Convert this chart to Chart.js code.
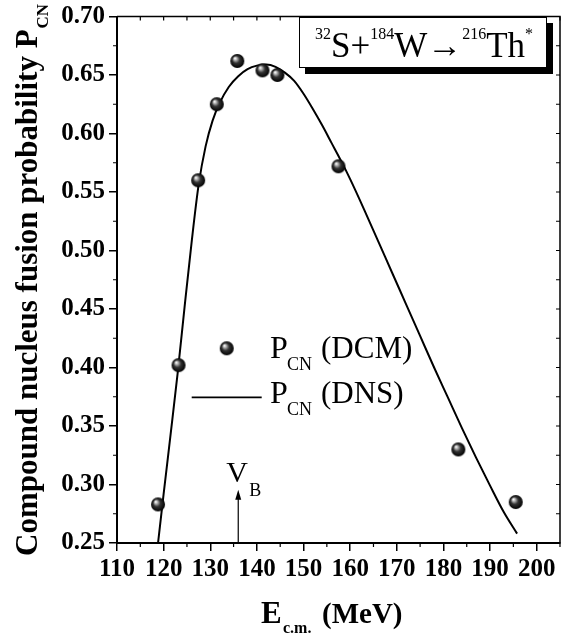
<!DOCTYPE html>
<html><head><meta charset="utf-8">
<script src="https://cdn.jsdelivr.net/npm/chart.js@4"></script>
<style>html,body{margin:0;padding:0;background:#fff}canvas{display:block}</style>
</head><body>
<canvas id="c" width="570" height="636"></canvas>
<script>
// ---- data ----
const dcmEnergy = [118.8, 123.2, 127.4, 131.4, 135.8, 141.2, 144.4, 157.5, 183.2, 195.5];
const dcmProb   = [0.283, 0.402, 0.560, 0.625, 0.662, 0.654, 0.650, 0.572, 0.330, 0.285];

const dnsEnergy = [118.8, 120, 121.5, 123, 124.5, 126, 127.5, 129, 130.5, 132, 134, 136, 138, 140, 142, 144, 146, 148, 150, 152, 154, 156, 158, 160, 163, 166, 169, 172, 175, 178, 181, 184, 187, 190, 193, 195.8];
const dnsProb   = [0.250, 0.292, 0.343, 0.395, 0.452, 0.507, 0.556, 0.589, 0.611, 0.626, 0.640, 0.649, 0.655, 0.658, 0.659, 0.657, 0.652, 0.645, 0.634, 0.621, 0.607, 0.592, 0.577, 0.561, 0.535, 0.508, 0.481, 0.454, 0.427, 0.400, 0.374, 0.348, 0.323, 0.299, 0.276, 0.258];

const xTicks      = [110, 120, 130, 140, 150, 160, 170, 180, 190, 200];
const xMinorTicks = [115, 125, 135, 145, 155, 165, 175, 185, 195, 205];
const yTicks      = [0.25, 0.30, 0.35, 0.40, 0.45, 0.50, 0.55, 0.60, 0.65, 0.70];
const yMinorTicks = [0.275, 0.325, 0.375, 0.425, 0.475, 0.525, 0.575, 0.625, 0.675];

const vbEnergy = 136;
const vbTipProb = 0.2955;

const SERIF = '"Liberation Serif","Times New Roman",serif';

function makeSphere(r) {
  const s = Math.ceil(r * 2 + 2);
  const cv = document.createElement('canvas');
  cv.width = s; cv.height = s;
  const g = cv.getContext('2d');
  const c = s / 2;
  const grad = g.createRadialGradient(c - r * 0.35, c - r * 0.4, r * 0.05, c, c, r);
  grad.addColorStop(0, '#ffffff');
  grad.addColorStop(0.18, '#b8b8b8');
  grad.addColorStop(0.5, '#333333');
  grad.addColorStop(1, '#000000');
  g.fillStyle = grad;
  g.beginPath(); g.arc(c, c, r, 0, Math.PI * 2); g.fill();
  return cv;
}
const sphere = makeSphere(7);

const decor = {
  id: 'decor',
  afterDraw(chart) {
    const { ctx, chartArea: a, scales: { x, y } } = chart;
    ctx.save();
    ctx.strokeStyle = '#000';
    ctx.fillStyle = '#000';
    // frame top & right
    ctx.lineWidth = 1.5;
    ctx.beginPath();
    ctx.moveTo(a.left, a.top); ctx.lineTo(a.right, a.top); ctx.lineTo(a.right, a.bottom);
    ctx.stroke();
    // minor ticks and inner ticks
    ctx.lineWidth = 1.2;
    ctx.beginPath();
    xMinorTicks.forEach(v => { const p = x.getPixelForValue(v); ctx.moveTo(p, a.bottom); ctx.lineTo(p, a.bottom + 4); });
    yMinorTicks.forEach(v => { const p = y.getPixelForValue(v); ctx.moveTo(a.left, p); ctx.lineTo(a.left - 4, p); });
    xTicks.concat(xMinorTicks).forEach(v => { const p = x.getPixelForValue(v); ctx.moveTo(p, a.top); ctx.lineTo(p, a.top + 4); });
    yTicks.concat(yMinorTicks).forEach(v => { const p = y.getPixelForValue(v); ctx.moveTo(a.right, p); ctx.lineTo(a.right - 4, p); });
    ctx.stroke();

    // V_B arrow
    const vx = x.getPixelForValue(vbEnergy);
    const vt = y.getPixelForValue(vbTipProb);
    ctx.lineWidth = 1.2;
    ctx.beginPath(); ctx.moveTo(vx, a.bottom); ctx.lineTo(vx, vt + 8); ctx.stroke();
    ctx.beginPath(); ctx.moveTo(vx, vt); ctx.lineTo(vx - 3, vt + 10); ctx.lineTo(vx + 3, vt + 10); ctx.closePath(); ctx.fill();
    ctx.textBaseline = 'alphabetic'; ctx.textAlign = 'left';
    ctx.font = '30px ' + SERIF; ctx.fillText('V', vx - 12, vt - 8);
    ctx.font = '18px ' + SERIF; ctx.fillText('B', vx + 11, vt + 6);

    // Y axis title
    ctx.save();
    ctx.translate(37, 556); ctx.rotate(-Math.PI / 2);
    ctx.font = 'bold 31px ' + SERIF;
    const yt = 'Compound nucleus fusion probability P';
    ctx.fillText(yt, 0, 0);
    const yw = ctx.measureText(yt).width;
    ctx.font = 'bold 17px ' + SERIF;
    ctx.fillText('CN', yw + 1, 11);
    ctx.restore();

    // X axis title
    ctx.font = 'bold 31px ' + SERIF; ctx.fillText('E', 261, 623);
    ctx.font = 'bold 16px ' + SERIF; ctx.fillText('c.m.', 283, 633);
    ctx.font = 'bold 29px ' + SERIF; ctx.fillText('(MeV)', 322, 623);

    // Legend
    ctx.drawImage(sphere, 226.7 - sphere.width / 2, 348.3 - sphere.height / 2);
    ctx.font = '32px ' + SERIF; ctx.fillText('P', 270, 358);
    ctx.font = '18px ' + SERIF; ctx.fillText('CN', 287, 370);
    ctx.font = '31px ' + SERIF; ctx.fillText('(DCM)', 321, 358);
    ctx.lineWidth = 1.8;
    ctx.beginPath(); ctx.moveTo(191.7, 397.3); ctx.lineTo(261.7, 397.3); ctx.stroke();
    ctx.font = '32px ' + SERIF; ctx.fillText('P', 270, 402.7);
    ctx.font = '18px ' + SERIF; ctx.fillText('CN', 287, 415);
    ctx.font = '31px ' + SERIF; ctx.fillText('(DNS)', 321, 402.7);

    // Title box with shadow
    ctx.fillStyle = '#000'; ctx.fillRect(305, 23, 248, 51);
    ctx.fillStyle = '#fff'; ctx.fillRect(299, 17, 248, 51);
    ctx.lineWidth = 1; ctx.strokeStyle = '#000'; ctx.strokeRect(299.5, 17.5, 247, 50);
    ctx.fillStyle = '#000';
    const parts = [['32', true], ['S+', false], ['184', true], ['W\u2192', false], ['216', true], ['Th', false], ['*', true]];
    let tx = 315;
    parts.forEach(([s, sup]) => {
      ctx.font = (sup ? '16px ' : '35px ') + SERIF;
      ctx.fillText(s, tx, sup ? 39 : 57);
      tx += ctx.measureText(s).width;
    });
    ctx.restore();
  }
};

const tickFont = { family: SERIF, size: 25, weight: 'bold', lineHeight: 1 };

new Chart(document.getElementById('c'), {
  type: 'scatter',
  data: {
    datasets: [
      {
        label: 'PCN (DCM)',
        data: dcmEnergy.map((e, i) => ({ x: e, y: dcmProb[i] })),
        pointStyle: sphere,
        pointRadius: 7,
        showLine: false
      },
      {
        label: 'PCN (DNS)',
        data: dnsEnergy.map((e, i) => ({ x: e, y: dnsProb[i] })),
        showLine: true,
        borderColor: '#000',
        borderWidth: 2,
        pointRadius: 0,
        cubicInterpolationMode: 'monotone',
        fill: false
      }
    ]
  },
  options: {
    responsive: false,
    animation: false,
    devicePixelRatio: 1,
    layout: { padding: { top: 13, right: 10, left: 0, bottom: 0 } },
    plugins: { legend: { display: false }, tooltip: { enabled: false }, title: { display: false } },
    scales: {
      x: {
        type: 'linear', min: 110, max: 205,
        afterBuildTicks: s => { s.ticks = xTicks.map(v => ({ value: v })); },
        afterFit: s => { s.height = 93; },
        grid: { drawOnChartArea: false, drawTicks: true, tickLength: 8, color: '#000', lineWidth: 1.5 },
        border: { display: true, color: '#000', width: 2 },
        ticks: { color: '#000', font: tickFont, padding: 6, maxRotation: 0, autoSkip: false, callback: v => String(v) }
      },
      y: {
        type: 'linear', min: 0.25, max: 0.70,
        afterBuildTicks: s => { s.ticks = yTicks.map(v => ({ value: v })); },
        afterFit: s => { s.width = 117; },
        grid: { drawOnChartArea: false, drawTicks: true, tickLength: 8, color: '#000', lineWidth: 1.5 },
        border: { display: true, color: '#000', width: 2 },
        ticks: { color: '#000', font: tickFont, padding: 4, autoSkip: false, callback: v => Number(v).toFixed(2) }
      }
    }
  },
  plugins: [decor]
});
</script>
</body></html>
